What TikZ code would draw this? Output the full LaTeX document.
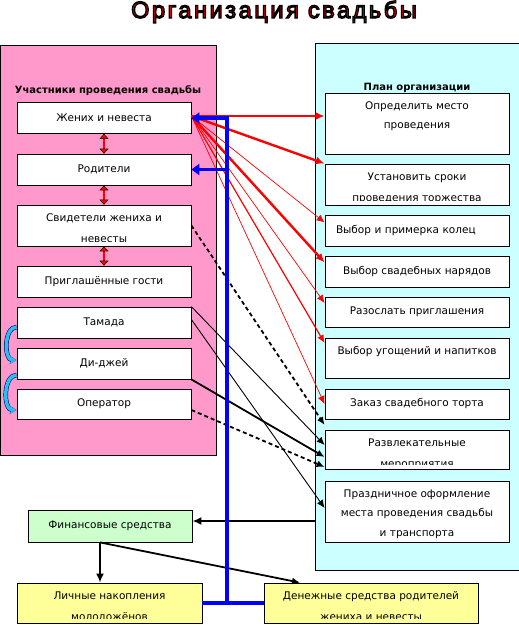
\documentclass[tikz,border=0pt]{standalone}
\usepackage{fontspec}
\setmainfont{DejaVu Sans}
\newfontfamily\titlefont[LetterSpace=11]{Liberation Sans}
\usetikzlibrary{arrows.meta,calc}
\definecolor{figline}{RGB}{0,0,0}
\definecolor{figpink}{RGB}{255,153,204}
\definecolor{figsky}{RGB}{204,255,255}
\definecolor{figmint}{RGB}{204,255,204}
\definecolor{figlemon}{RGB}{255,255,153}
\definecolor{figred}{RGB}{255,0,0}
\definecolor{figblue}{RGB}{0,0,255}
\definecolor{figarc}{RGB}{40,190,240}
\newcommand{\outlined}[1]{\special{pdf:literal direct 0 0 0 RG 1.3 w 2 Tr}#1\special{pdf:literal direct 0 Tr}}
\tikzset{
  panel/.style  ={draw=figline, line width=0.8pt, inner sep=0pt},
  box/.style    ={draw=figline, line width=0.8pt, fill=white, inner sep=0pt, font=\fontsize{10.5}{12}\selectfont},
  lbox/.style   ={box, minimum width=174pt, minimum height=31pt},
  rbox/.style   ={box, minimum width=184pt, minimum height=31pt},
  inner/.style  ={draw=none, fill=none, minimum width=0pt, minimum height=0pt, align=center, anchor=north, inner sep=0pt},
  toptext/.style={path picture={\node[inner, font=\fontsize{10.5}{19.5}\selectfont] at ([yshift=-8pt]path picture bounding box.north) {#1};}},
  cut/.style    ={path picture={\clip (path picture bounding box.north west) rectangle ([yshift=5pt]path picture bounding box.south east);
                  \node[inner, font=\fontsize{10.5}{21}\selectfont] at ([yshift=-8pt]path picture bounding box.north) {#1};}},
  head/.style   ={font=\fontsize{10}{12}\selectfont\bfseries, inner sep=1pt},
  rthick/.style ={draw=figred, line width=2.4pt, -{Latex[length=9pt,width=8pt]}},
  rmid/.style   ={draw=figred, line width=1.2pt, -{Latex[length=8pt,width=7pt]}},
  rthin/.style  ={draw=figred, line width=0.7pt, -{Latex[length=8pt,width=7pt]}},
  updown/.style ={draw=figred, line width=2.4pt, {Triangle[length=5pt,width=9pt,color=black,fill=figred,line width=0.5pt]}-{Triangle[length=5pt,width=9pt,color=black,fill=figred,line width=0.5pt]}},
  swing/.style  ={draw=figarc, line width=3.5pt, preaction={draw=figline!60!figblue, line width=4.6pt}, -{Stealth[length=7pt,width=8pt]}},
  bdash/.style  ={draw=figline, line width=1.8pt, dash pattern=on 4pt off 3pt, -{Latex[length=8pt,width=7pt]}},
  bmid/.style   ={draw=figline, line width=1.8pt, -{Latex[length=8pt,width=7pt]}},
  bthin/.style  ={draw=figline, line width=0.9pt, -{Latex[length=8pt,width=7pt]}},
  bthick/.style ={draw=figline, line width=2.6pt, -{Latex[length=9pt,width=8pt]}},
  bus/.style    ={draw=figblue, line width=3.5pt},
  busarr/.style ={bus, -{Triangle[length=8pt,width=11pt]}},
}
\begin{document}
\begin{tikzpicture}[x=1pt,y=-1pt]
  \useasboundingbox (0,0) rectangle (519,625);
  \node[inner sep=0pt, anchor=base] (title) at (274,18) {\titlefont\fontsize{23.5}{26}\selectfont\textcolor{figred}{\outlined{Организация свадьбы}}};
  \node[panel, fill=figpink, minimum width=215.6pt, minimum height=410pt] (team) at (108.2,250) {};
  \node[panel, fill=figsky, minimum width=206pt, minimum height=527pt] (plan) at (418,306.5) {};
  \node[head] (teamhead) at (108,91) {Участники проведения свадьбы};
  \node[head] (planhead) at (417,88) {План организации};
  \node[lbox] (groom) at (104,118) {Жених и невеста};
  \node[lbox] (parents) at (104,169.5) {Родители};
  \node[lbox, minimum height=41pt, cut={Свидетели жениха и\\невесты}] (witness) at (104,225.5) {};
  \node[lbox] (guests) at (104,281.5) {Приглашённые гости};
  \node[lbox] (tamada) at (104,322.5) {Тамада};
  \node[lbox] (dj) at (104,363.5) {Ди-джей};
  \node[lbox, minimum height=30pt] (oper) at (104,404) {Оператор};
  \node[rbox, minimum height=61pt, toptext={Определить место\\проведения}] (place) at (417,123.5) {};
  \node[rbox, minimum height=41pt, cut={Установить сроки\\проведения торжества}] (dates) at (417,184.5) {};
  \node[rbox, text width=162pt, inner xsep=11pt, align=left] (rings) at (417,230.5) {Выбор и примерка колец};
  \node[rbox] (outfits) at (417,271.5) {Выбор свадебных нарядов};
  \node[rbox, minimum height=30pt] (invites) at (417,312) {Разослать приглашения};
  \node[rbox, minimum height=40pt, toptext={Выбор угощений и напитков}] (food) at (417,358) {};
  \node[rbox, minimum height=30pt] (cake) at (417,404) {Заказ свадебного торта};
  \node[rbox, minimum height=39pt, cut={Развлекательные\\мероприятия}] (fun) at (417,449.5) {};
  \node[rbox, minimum height=61pt, toptext={Праздничное оформление\\места проведения свадьбы\\и транспорта}] (decor) at (417,511.5) {};
  \node[box, fill=figmint, minimum width=164pt, minimum height=32pt] (fin) at (110,526) {Финансовые средства};
  \node[box, fill=figlemon, minimum width=185pt, minimum height=40pt, cut={Личные накопления\\молодожёнов}] (savings) at (109.5,603) {};
  \node[box, fill=figlemon, minimum width=214pt, minimum height=40pt, cut={Денежные средства родителей\\жениха и невесты}] (gifts) at (371,603) {};
  \draw[updown] (groom) -- (parents);
  \draw[updown] (parents) -- (witness);
  \draw[updown] (witness) -- (guests);
  \draw[swing] ([yshift=-4.5pt]tamada.west) to[out=180,in=180] ([yshift=3.5pt]dj.west);
  \draw[swing] ([yshift=-11.5pt]dj.west) to[out=180,in=180] ([yshift=-6pt]oper.west);
  \coordinate (gs) at ([yshift=2pt]groom.east);
  \draw[rthick] (gs) -- (gs -| place.west);
  \draw[rthick] (gs) -- (dates.north west);
  \draw[rthin] (gs) -- ([yshift=8pt]rings.west);
  \draw[rthick] (gs) -- ([yshift=9pt]outfits.west);
  \draw[rthin] (gs) -- ([yshift=9pt]invites.west);
  \draw[rmid] (gs) -- ([yshift=15pt]food.west);
  \draw[rthin] (gs) -- (cake.west);
  \draw[bdash] (witness.east) -- ([yshift=24.5pt]fun.west);
  \draw[bthin] (tamada.north east) -- ([yshift=4.5pt]fun.west);
  \draw[bthin] ([yshift=3pt]tamada.east) -- ([yshift=3.5pt]decor.west);
  \draw[bmid] (dj.south east) -- ([yshift=-7.5pt]fun.west);
  \draw[bdash] ([yshift=-6pt]oper.east) -- ([yshift=-17.5pt]fun.west);
  \coordinate (fe) at ([yshift=5pt]fin.east);
  \draw[bthick] (fe -| plan.west) -- (fe);
  \coordinate (fo) at ([xshift=-10pt]fin.south);
  \draw[bthick] (fo) -- (fo |- savings.north);
  \draw[bmid] (fo) -- ([xshift=-71pt]gifts.north);
  \coordinate (bus) at (227,603);
  \draw[bus] (savings.east) -- (gifts.west);
  \draw[busarr] (bus) |- (groom.east);
  \draw[busarr] (bus |- parents.east) -- (parents.east);
\end{tikzpicture}
\end{document}
